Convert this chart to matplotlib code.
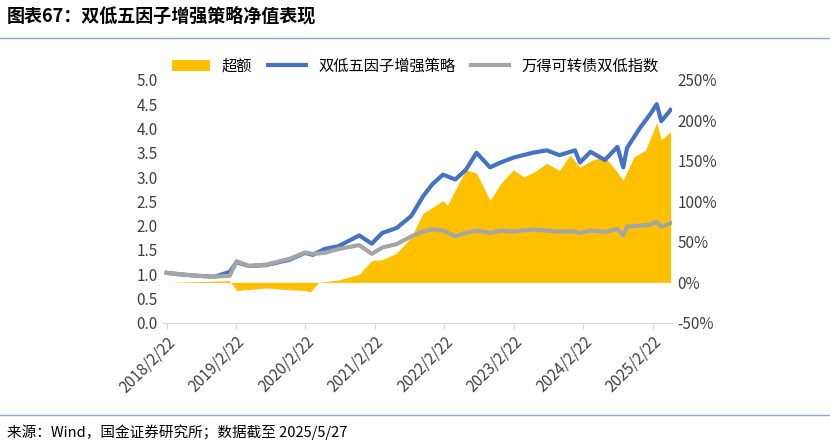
import matplotlib.pyplot as plt
import matplotlib.dates as mdates
import pandas as pd

plt.rcParams['font.family'] = ['Noto Sans CJK SC', 'DejaVu Sans']

# 双低五因子增强策略 / 万得可转债双低指数 (净值)
line_dates = ['2018-02-22', '2018-05-01', '2018-08-01', '2018-11-01', '2019-01-20', '2019-02-25',
              '2019-05-01', '2019-08-01', '2019-12-01', '2020-02-20', '2020-04-01', '2020-06-01',
              '2020-08-15', '2020-12-01', '2021-02-05', '2021-04-01', '2021-06-15', '2021-09-01',
              '2021-11-01', '2021-12-20', '2022-02-15', '2022-04-20', '2022-06-15', '2022-08-10',
              '2022-10-20', '2022-12-15', '2023-02-20', '2023-06-01', '2023-08-15', '2023-10-20',
              '2024-01-10', '2024-02-05', '2024-04-01', '2024-06-15', '2024-08-20', '2024-09-20',
              '2024-10-10', '2024-12-15', '2025-02-10', '2025-03-15', '2025-04-08', '2025-05-27']
strategy = [1.03, 1.00, 0.97, 0.95, 1.05, 1.25, 1.17, 1.19, 1.30, 1.44, 1.40, 1.52,
            1.58, 1.80, 1.63, 1.85, 1.95, 2.20, 2.60, 2.85, 3.05, 2.95, 3.15, 3.50,
            3.20, 3.30, 3.40, 3.50, 3.55, 3.45, 3.55, 3.30, 3.52, 3.35, 3.62, 3.20,
            3.60, 4.00, 4.30, 4.50, 4.15, 4.38]
index = [1.03, 1.00, 0.97, 0.95, 0.97, 1.27, 1.17, 1.20, 1.32, 1.45, 1.42, 1.44,
         1.52, 1.60, 1.42, 1.55, 1.62, 1.78, 1.88, 1.92, 1.90, 1.78, 1.85, 1.90,
         1.85, 1.90, 1.88, 1.92, 1.90, 1.88, 1.88, 1.85, 1.90, 1.87, 1.93, 1.80,
         1.98, 2.00, 2.02, 2.08, 1.98, 2.05]

# 超额 (%)
excess_dates = ['2018-02-22', '2018-08-01', '2019-01-20', '2019-02-25', '2019-08-01', '2019-12-01',
                '2020-02-20', '2020-03-20', '2020-05-01', '2020-08-15', '2020-12-01', '2021-02-05',
                '2021-04-01', '2021-06-15', '2021-09-01', '2021-11-01', '2022-02-15', '2022-03-10',
                '2022-04-20', '2022-06-15', '2022-08-10', '2022-10-20', '2022-12-15', '2023-02-20',
                '2023-04-15', '2023-06-15', '2023-08-15', '2023-10-20', '2023-12-15', '2024-02-05',
                '2024-04-10', '2024-06-15', '2024-08-20', '2024-09-20', '2024-11-15', '2025-01-15',
                '2025-03-15', '2025-04-08', '2025-05-27']
excess = [0, 1, 2, -10, -7, -9, -10, -12, 0, 3, 10, 27,
          28, 36, 56, 85, 101, 95, 114, 139, 135, 101, 122, 139,
          130, 137, 147, 138, 157, 142, 151, 155, 136, 126, 155, 163,
          197, 176, 186]

ld = pd.to_datetime(line_dates)
ed = pd.to_datetime(excess_dates)
tick_dates = pd.to_datetime(['2018-02-22', '2019-02-22', '2020-02-22', '2021-02-22',
                             '2022-02-22', '2023-02-22', '2024-02-22', '2025-02-22'])
tick_labels = ['2018/2/22', '2019/2/22', '2020/2/22', '2021/2/22',
               '2022/2/22', '2023/2/22', '2024/2/22', '2025/2/22']

fig = plt.figure(figsize=(8.3, 4.46), dpi=100)
ax = fig.add_axes([0.196, 0.276, 0.614, 0.545])
ax2 = ax.twinx()

ax2.fill_between(ed, 0, excess, color='#FFC000', lw=0, label='超额')
ax2.set_ylim(-50, 250)
ax2.set_yticks(range(-50, 251, 50))
ax2.set_yticklabels([f'{v}%' for v in range(-50, 251, 50)])

ax.set_zorder(ax2.get_zorder() + 1)
ax.patch.set_visible(False)
ax.plot(ld, strategy, color='#4472C4', lw=3, label='双低五因子增强策略')
ax.plot(ld, index, color='#A5A5A5', lw=3, label='万得可转债双低指数')
ax.set_ylim(0, 5)
ax.set_yticks([i * 0.5 for i in range(11)])
ax.set_yticklabels([f'{i * 0.5:.1f}' for i in range(11)])
ax.set_xlim(pd.Timestamp('2018-02-01'), pd.Timestamp('2025-06-05'))
ax.set_xticks(tick_dates)
ax.set_xticklabels(tick_labels, rotation=45, ha='right', rotation_mode='anchor')

for a in (ax, ax2):
    for s in ('top', 'right', 'left'):
        a.spines[s].set_visible(False)
    a.tick_params(axis='y', length=0, labelsize=11, colors='#404040')
ax2.spines['bottom'].set_visible(False)
ax.spines['bottom'].set_color('#D9D9D9')
ax.tick_params(axis='x', labelsize=11, colors='#404040', length=4, color='#D9D9D9')

h1, l1 = ax2.get_legend_handles_labels()
h2, l2 = ax.get_legend_handles_labels()
fig.legend(h1 + h2, l1 + l2, loc='center', bbox_to_anchor=(0.5, 0.852), ncol=3,
           frameon=False, fontsize=11, handlelength=2.5, columnspacing=1.0)

fig.text(0.008, 0.965, '图表67：双低五因子增强策略净值表现', fontsize=13, fontweight='bold',
         style='italic', va='center')
fig.add_artist(plt.Line2D([0, 1], [0.915, 0.915], color='#8EA9C8', lw=1))
fig.add_artist(plt.Line2D([0, 1], [0.07, 0.07], color='#8EA9C8', lw=1))
fig.text(0.008, 0.03, '来源：Wind，国金证券研究所；数据截至 2025/5/27', fontsize=10.5, va='center')

fig.savefig('out.png', dpi=100)
